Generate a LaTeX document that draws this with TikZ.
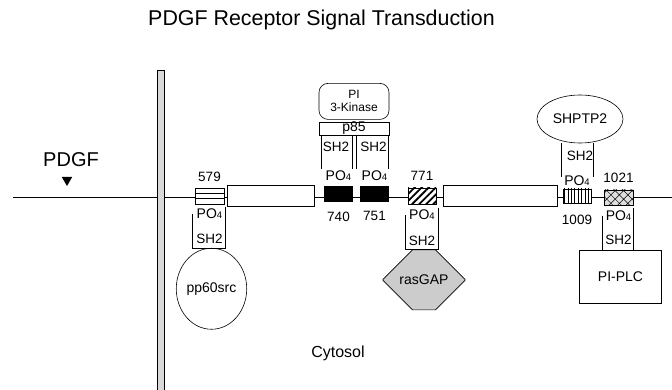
\documentclass[tikz,border=0pt]{standalone}
\usepackage{fontspec}
\setmainfont{Liberation Sans}
\usetikzlibrary{positioning, shapes.geometric, shapes.misc, patterns.meta}

\newcommand{\POfour}{PO{\fontsize{9.5}{10}\selectfont 4}}

\begin{document}
\begin{tikzpicture}[
    x=1pt, y=-1pt,
    line width=0.6pt,
    seg/.style={rectangle, draw, fill=white, inner sep=0pt,
                minimum width=#1, minimum height=21pt},
    tyr/.style={rectangle, draw, fill=white, inner sep=0pt,
                minimum width=28pt, minimum height=15pt},
    num/.style={inner sep=0pt, font=\fontsize{13.5}{15}\selectfont},
    phos/.style={inner sep=0pt, font=\fontsize{14}{16}\selectfont},
    dom/.style={inner sep=0pt, font=\fontsize{13.5}{15}\selectfont},
    prot/.style={draw, inner sep=0pt, font=\fontsize{14}{16}\selectfont},
]
\useasboundingbox (0,0) rectangle (672,390);
\node[anchor=base, font=\fontsize{21.4}{25}\selectfont] (title) at (321.5,26) {PDGF Receptor Signal Transduction};
\coordinate (lend) at (13,197);
\coordinate (rend) at (672,197);
\draw (lend) -- (rend);
\node[rectangle, draw, fill=gray!30, inner sep=0pt, minimum width=7pt, minimum height=324pt] (memb) at (160.5,232) {};
\node[inner sep=0pt, font=\fontsize{20}{24}\selectfont] (pdgf) at (71,160) {PDGF};
\node[regular polygon, regular polygon sides=3, shape border rotate=180, fill=black,
      inner sep=0pt, minimum size=12pt] (lig) at (67,180) {};
\node[tyr, minimum width=29pt, minimum height=16pt] (y579) at (209.5,196) {};
\draw ([yshift=2.7pt]y579.west) -- ([yshift=2.7pt]y579.east);
\draw ([yshift=-2.7pt]y579.west) -- ([yshift=-2.7pt]y579.east);
\node[seg=87pt] (kd1) at (270.5,195.5) {};
\node[tyr, fill=black] (y740) at (338.5,193.5) {};
\node[tyr, fill=black] (y751) at (374.5,193.5) {};
\node[tyr, minimum height=16pt, preaction={fill=white},
      pattern={Lines[angle=45, distance=5pt, line width=1.8pt]}] (y771) at (422,196) {};
\node[seg=114pt] (kd2) at (500,195.5) {};
\node[tyr, minimum height=14pt, preaction={fill=white},
      pattern={Lines[angle=90, distance=3.4pt, line width=0.6pt]}] (y1009) at (577,196) {};
\node[tyr, minimum width=29pt, preaction={fill=gray!25},
      pattern={Hatch[angle=45, distance=6pt, line width=0.5pt]}] (y1021) at (618.5,197.5) {};
\node[num, above=6pt of y579] (n579) {579};
\node[num, above=6pt of y771] (n771) {771};
\node[num, above=7pt of y1021] (n1021) {1021};
\node[num, below=10pt of y740] (n740) {740};
\node[num, below=10pt of y751] (n751) {751};
\node[num, below=11pt of y1009] (n1009) {1009};
\node[phos, above=5pt of y740] (p740) {\POfour};
\node[phos, above=5pt of y751] (p751) {\POfour};
\node[phos, above=3pt of y1009] (p1009) {\POfour};
\node[phos, below=4pt of y579] (p579) {\POfour};
\node[phos, below=5pt of y771] (p771) {\POfour};
\node[phos, below=5pt of y1021] (p1021) {\POfour};
\node[rectangle, draw, inner sep=0pt, minimum width=70pt, minimum height=13pt,
      font=\fontsize{14}{16}\selectfont] (p85) at (354,128.5) {p85};
\node[rectangle, draw, rounded corners=9pt, inner sep=0pt, minimum width=70pt,
      minimum height=36pt, align=center, font=\fontsize{12}{13}\selectfont,
      above=2pt of p85] (pi3k) {PI\\3-Kinase};
\node[dom] (s740) at (336,146.5) {SH2};
\node[dom] (s751) at (373.5,146.5) {SH2};
\node[prot, ellipse, minimum width=86pt, minimum height=48pt] (shp) at (580,119) {SHPTP2};
\node[dom, below=7pt of shp] (s1009) {SH2};
\node[dom, below=15pt of p579] (s579) {SH2};
\node[dom, below=15pt of p771] (s771) {SH2};
\node[dom, below=14pt of p1021] (s1021) {SH2};
\node[prot, ellipse, minimum width=68pt, minimum height=81pt, below=4pt of s579, xshift=2pt] (src) {pp60src};
\node[prot, chamfered rectangle, chamfered rectangle xsep=20pt, chamfered rectangle ysep=30pt,
      fill=gray!40, minimum width=82pt, minimum height=60pt, below=4pt of s771, xshift=2pt] (gap) {rasGAP};
\node[prot, rectangle, minimum width=82pt, minimum height=53pt, below=5pt of s1021, xshift=2pt] (plc) {PI-PLC};
\node[inner sep=0pt, font=\fontsize{16}{18}\selectfont] (cyto) at (338,353) {Cytosol};
\draw ([xshift=-3pt]y740.west |- p85.south) -- ([xshift=-3pt]y740.west |- 0,169);
\draw ([xshift=-1pt]y740.east |- p85.south) -- ([xshift=-1pt]y740.east |- 0,169);
\draw ([xshift=-4pt]y751.west |- p85.south) -- ([xshift=-4pt]y751.west |- 0,169);
\draw ([xshift=-1pt]y751.east |- p85.south) -- ([xshift=-1pt]y751.east |- 0,169);
\draw ([xshift=-1pt]y1009.west |- shp.south) -- ([xshift=-1pt]y1009.west |- 0,177);
\draw ([xshift=2pt]y1009.east |- shp.south) -- ([xshift=2pt]y1009.east |- 0,177);
\draw ([xshift=-2pt]y579.west |- p579.center) |- ([xshift=1pt]y579.east |- src.north) -- ([xshift=1pt,yshift=-3pt]y579.south east);
\draw ([xshift=-2pt]y771.west |- p771.center) |- ([xshift=1pt]y771.east |- gap.north) -- ([xshift=1pt,yshift=-3pt]y771.south east);
\draw ([xshift=-1pt]y1021.west |- p1021.center) |- ([xshift=0pt]y1021.east |- plc.north) -- ([yshift=-3pt]y1021.south east);
\end{tikzpicture}
\end{document}
